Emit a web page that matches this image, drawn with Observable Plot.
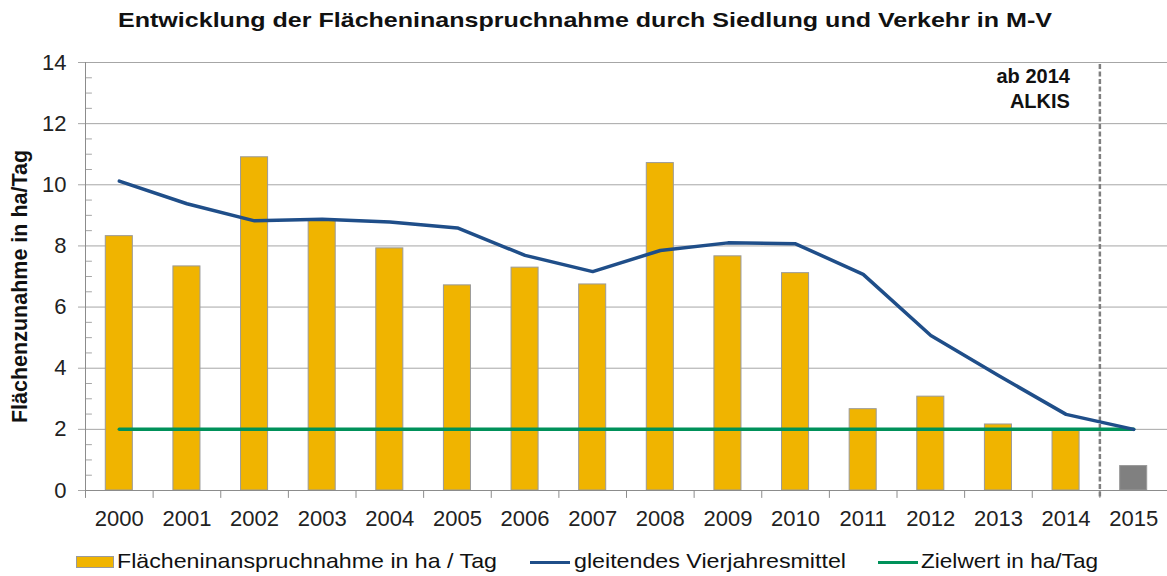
<!DOCTYPE html>
<html>
<head>
<meta charset="utf-8">
<script src="https://cdn.jsdelivr.net/npm/d3@7"></script>
<script src="https://cdn.jsdelivr.net/npm/@observablehq/plot@0.6"></script>
<style>
  html, body { margin: 0; padding: 0; background: #fff; }
  body { font-family: "Liberation Sans", Arial, sans-serif; color: #111; }
  #wrap { position: relative; width: 1167px; height: 576px; overflow: hidden; }
  #title { position: absolute; top: 0; left: 0; width: 1167px; height: 45px; }
  #title span { position: absolute; left: 118px; top: 9px; font-size: 21px; font-weight: bold; line-height: 21px; white-space: nowrap; transform-origin: 0 0; }
  #chart { position: absolute; top: 45px; left: 0; }
  #legend { position: absolute; top: 535px; left: 0; width: 1167px; height: 41px; }
  .lg { position: absolute; font-size: 21px; line-height: 21px; white-space: nowrap; transform-origin: 0 0; color: #111; }
  .sw { position: absolute; }
</style>
</head>
<body>
<div id="wrap">
  <div id="title"><span data-w="934">Entwicklung der Flächeninanspruchnahme durch Siedlung und Verkehr in M-V</span></div>
  <div id="chart"></div>
  <div id="legend"></div>
</div>
<script>
// ---- data ----
const years = [2000, 2001, 2002, 2003, 2004, 2005, 2006, 2007, 2008, 2009, 2010, 2011, 2012, 2013, 2014, 2015];
const flaeche = [8.32, 7.33, 10.90, 8.83, 7.92, 6.71, 7.29, 6.74, 10.71, 7.66, 7.11, 2.66, 3.07, 2.16, 1.98, 0.80];
const mittel = [10.12, 9.38, 8.82, 8.87, 8.78, 8.59, 7.69, 7.16, 7.85, 8.10, 8.07, 7.07, 5.07, 3.76, 2.49, 2.00];
const zielwert = [2, 2, 2, 2, 2, 2, 2, 2, 2, 2, 2, 2, 2, 2, 2, 2];
const yTicks = [0, 2, 4, 6, 8, 10, 12, 14];
const yMinor = [0.5, 1, 1.5, 2.5, 3, 3.5, 4.5, 5, 5.5, 6.5, 7, 7.5, 8.5, 9, 9.5, 10.5, 11, 11.5, 12.5, 13, 13.5];
const alkisYear = 2014.5;
const alkisLabel = "ab 2014\nALKIS";
const yLabel = "Flächenzunahme in ha/Tag";
const legendLabels = ["Flächeninanspruchnahme in ha / Tag", "gleitendes Vierjahresmittel", "Zielwert in ha/Tag"];

const barData = years.map((y, i) => ({year: y, value: flaeche[i], alkis: y > alkisYear}));
const avgData = years.map((y, i) => ({year: y, value: mittel[i]}));
const zielData = years.map((y, i) => ({year: y, value: zielwert[i]}));
const bounds = years.map(y => y - 0.5).concat([years[years.length - 1] + 0.5]);

const YELLOW = "#f0b400", GRAY = "#808080", BLUE = "#1f4e89", GREEN = "#00915a", GRID = "#a6a6a6";
const lineShape = {draw(ctx, l) { ctx.moveTo(0, 0); ctx.lineTo(0, -l); }};

const chart = Plot.plot({
  width: 1167,
  height: 490,
  marginTop: 17,
  marginBottom: 45,
  marginLeft: 85,
  marginRight: 0,
  style: {fontFamily: "'Liberation Sans', Arial, sans-serif", fontSize: "22px", color: "#222", background: "white", overflow: "visible"},
  x: {domain: [bounds[0], bounds[bounds.length - 1]], axis: null},
  y: {domain: [0, 14], axis: null},
  marks: [
    Plot.ruleY(yTicks.filter(d => d > 0), {stroke: GRID, strokeWidth: 1}),
    Plot.axisY(yTicks, {tickSize: 7, tickPadding: 12, fontSize: 22, stroke: GRID, fill: "#222", label: null}),
    Plot.vector(yMinor, {y: d => d, frameAnchor: "left", length: 6, rotate: 90, anchor: "start", shape: lineShape, stroke: GRID, strokeWidth: 1}),
    Plot.ruleX([bounds[0]], {stroke: "#8c8c8c", strokeWidth: 1}),
    Plot.rectY(barData, {x1: d => d.year - 0.2, x2: d => d.year + 0.2, y: "value", fill: d => d.alkis ? GRAY : YELLOW, stroke: "#9a9a9a", strokeWidth: 1}),
    Plot.ruleY([0], {stroke: "#8c8c8c", strokeWidth: 1}),
    Plot.vector(bounds, {x: d => d, y: () => 0, length: 7, rotate: 180, anchor: "start", shape: lineShape, stroke: "#8c8c8c", strokeWidth: 1}),
    Plot.axisX(years, {tickSize: 0, tickPadding: 20, fontSize: 22, fill: "#222", tickFormat: d => String(d), label: null}),
    Plot.ruleX([alkisYear], {stroke: "#7f7f7f", strokeWidth: 2.5, strokeDasharray: "5,2.5", insetBottom: -7, insetTop: 2}),
    Plot.line(zielData, {x: "year", y: "value", stroke: GREEN, strokeWidth: 3.5}),
    Plot.line(avgData, {x: "year", y: "value", stroke: BLUE, strokeWidth: 3.5, curve: "linear"}),
    Plot.text([alkisLabel], {x: () => alkisYear, y: () => 13.18, dx: -30, text: d => d, textAnchor: "end", lineAnchor: "middle", lineHeight: 1.22, fontSize: 20, fontWeight: "bold", fill: "#111"}),
    Plot.text([yLabel], {frameAnchor: "left", dx: -65, dy: 10, rotate: -90, text: d => d, textAnchor: "middle", lineAnchor: "middle", fontSize: 21.5, fontWeight: "bold", fill: "#111"})
  ]
});
document.getElementById("chart").appendChild(chart);

// ---- legend ----
const legend = document.getElementById("legend");
const items = [
  {type: "rect", color: YELLOW, sx: 76, sw: 38, tx: 117, w: 380},
  {type: "line", color: BLUE, sx: 530, sw: 40, tx: 574, w: 272},
  {type: "line", color: GREEN, sx: 878, sw: 40, tx: 921, w: 177}
];
items.forEach((it, i) => {
  const s = document.createElement("div");
  s.className = "sw";
  if (it.type === "rect") {
    Object.assign(s.style, {left: it.sx + "px", top: "21px", width: it.sw + "px", height: "12px", background: it.color, border: "1px solid #9a9a9a", boxSizing: "border-box"});
  } else {
    Object.assign(s.style, {left: it.sx + "px", top: "26px", width: it.sw + "px", height: "3px", background: it.color});
  }
  legend.appendChild(s);
  const t = document.createElement("span");
  t.className = "lg";
  t.textContent = legendLabels[i];
  t.dataset.w = it.w;
  Object.assign(t.style, {left: it.tx + "px", top: "15px"});
  legend.appendChild(t);
});

// fit stretched texts to measured widths
document.querySelectorAll("[data-w]").forEach(el => {
  const w = el.getBoundingClientRect().width;
  const target = +el.dataset.w;
  if (w > 0) el.style.transform = `scaleX(${target / w})`;
});
</script>
</body>
</html>
